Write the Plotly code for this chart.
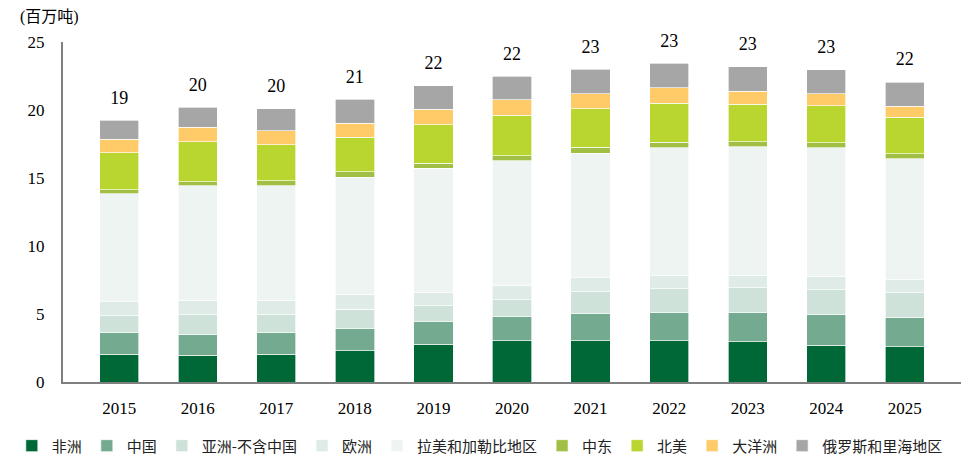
import plotly.graph_objects as go

years = ["2015", "2016", "2017", "2018", "2019", "2020", "2021", "2022", "2023", "2024", "2025"]

africa = [2.04, 1.96, 2.04, 2.31, 2.77, 3.02, 3.02, 3.02, 2.95, 2.72, 2.58]
china = [1.57, 1.52, 1.57, 1.64, 1.69, 1.77, 1.99, 2.09, 2.16, 2.21, 2.16]
asia_ex_china = [1.25, 1.45, 1.33, 1.40, 1.13, 1.25, 1.62, 1.74, 1.82, 1.84, 1.82]
europe = [1.03, 1.08, 1.06, 1.10, 1.01, 1.08, 1.03, 0.96, 0.91, 1.01, 0.96]
latam = [7.95, 8.42, 8.44, 8.62, 9.13, 9.16, 9.16, 9.43, 9.45, 9.45, 8.89]
middle_east = [0.29, 0.29, 0.37, 0.39, 0.37, 0.37, 0.44, 0.39, 0.37, 0.37, 0.39]
north_america = [2.72, 2.95, 2.65, 2.55, 2.82, 2.95, 2.85, 2.85, 2.75, 2.72, 2.65]
oceania = [1.01, 1.06, 1.01, 1.03, 1.15, 1.15, 1.10, 1.15, 0.96, 0.88, 0.81]
russia_caspian = [1.37, 1.47, 1.64, 1.74, 1.72, 1.72, 1.77, 1.79, 1.82, 1.77, 1.79]

series_names = ["非洲", "中国", "亚洲-不含中国", "欧洲", "拉美和加勒比地区", "中东", "北美", "大洋洲", "俄罗斯和里海地区"]
series_values = [africa, china, asia_ex_china, europe, latam, middle_east, north_america, oceania, russia_caspian]
colors = ["#006837", "#74AA8F", "#CFE2DA", "#DFEBE6", "#EDF4F1", "#A1BF45", "#B8D530", "#FFCA68", "#A6A6A6"]

totals = [sum(v) for v in zip(*series_values)]
total_labels = [str(round(t)) for t in totals]

serif = "Liberation Serif, Times New Roman, serif"
cjk = "Noto Sans CJK SC, sans-serif"

fig = go.Figure()
for name, vals, col in zip(series_names, series_values, colors):
    fig.add_trace(go.Bar(
        x=years, y=vals, name=name,
        marker=dict(color=col, line=dict(color="rgba(255,255,255,0.8)", width=0.8)),
    ))

fig.add_trace(go.Scatter(
    x=years, y=totals, text=total_labels, mode="markers+text",
    textposition="top center", showlegend=False, hoverinfo="skip", cliponaxis=False,
    marker=dict(size=18, color="rgba(0,0,0,0)"),
    textfont=dict(family=serif, size=18, color="#000000"),
))

fig.add_annotation(xref="paper", yref="paper", x=-0.05, y=1.074, xanchor="left", yanchor="middle",
                   text="(百万吨)", showarrow=False,
                   font=dict(family="Liberation Serif, Noto Sans CJK SC", size=16, color="#000000"))

fig.update_layout(
    barmode="stack",
    bargap=0.5,
    width=977, height=457,
    margin=dict(l=55, r=24, t=34, b=83, autoexpand=False),
    paper_bgcolor="white", plot_bgcolor="white",
    showlegend=True,
    legend=dict(orientation="h", x=-0.057, xanchor="left", y=-0.188, yanchor="middle",
                font=dict(family=cjk, size=15, color="#222222"),
                itemwidth=30, traceorder="normal"),
)
fig.update_xaxes(type="category", showline=True, linecolor="#7F7F7F", linewidth=2,
                 ticks="outside", ticklen=10, tickcolor="rgba(0,0,0,0)",
                 tickfont=dict(family=serif, size=17, color="#000000"))
fig.update_yaxes(range=[0, 25], dtick=5, showgrid=False, zeroline=False,
                 showline=True, linecolor="#7F7F7F", linewidth=2,
                 ticks="outside", ticklen=13, tickcolor="rgba(0,0,0,0)",
                 tickfont=dict(family=serif, size=17, color="#000000"))

fig.write_html("out.html")
